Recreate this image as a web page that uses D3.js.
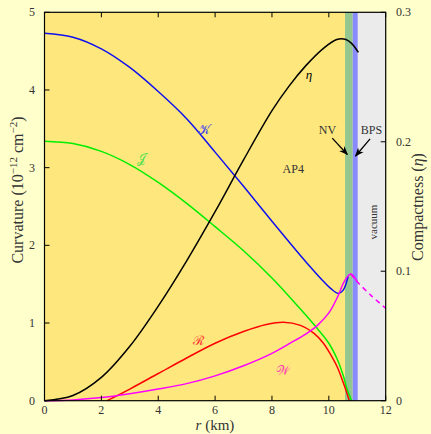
<!DOCTYPE html>
<html>
<head>
<meta charset="utf-8">
<script src="https://cdn.jsdelivr.net/npm/d3@7"></script>
<style>
  body { margin: 0; background: #ffffcc; }
  svg { display: block; }
  text { font-family: "Liberation Serif", "DejaVu Serif", serif; fill: #333; }
</style>
</head>
<body>
<svg id="chart" width="431" height="434"></svg>
<script>
// data (r in km, curvature in 1e-12 cm^-2, eta dimensionless)
const kR = [0, 1, 2, 3, 4, 5, 6, 7, 8, 9, 9.5, 9.8, 10.05, 10.33, 10.5, 10.68]
const kV = [4.73, 4.68, 4.53, 4.29, 3.98, 3.63, 3.2, 2.76, 2.31, 1.87, 1.66, 1.54, 1.45, 1.38, 1.42, 1.6]

const jR = [0, 1, 2, 3, 4, 5, 6, 7, 8, 9, 9.5, 10, 10.3, 10.5, 10.65, 10.8]
const jV = [3.34, 3.31, 3.21, 3.04, 2.81, 2.54, 2.24, 1.93, 1.58, 1.18, 0.97, 0.74, 0.53, 0.33, 0.14, 0]

const rR = [2.2, 3, 4, 5, 6, 7, 7.8, 8.4, 9, 9.5, 9.81, 10.1, 10.3, 10.5, 10.65, 10.72]
const rV = [0, 0.15, 0.35, 0.55, 0.74, 0.89, 0.98, 1.01, 0.97, 0.86, 0.74, 0.57, 0.43, 0.24, 0.08, 0]

const wR = [0, 1, 2, 3, 4, 5, 6, 7, 8, 8.64, 9.2, 9.6, 10, 10.3, 10.55, 10.77, 11.0]
const wV = [0, 0.01, 0.04, 0.09, 0.15, 0.22, 0.32, 0.45, 0.61, 0.74, 0.86, 0.97, 1.13, 1.33, 1.54, 1.63, 1.53]
const wDashR = [10.77, 11.0, 11.5, 12]
const wDashV = [1.63, 1.53, 1.35, 1.19]

const etaR = [0, 1, 2, 3, 4, 5, 6, 7, 8, 8.6, 9.2, 9.8, 10.28, 10.6, 10.8, 11.04]
const etaV = [0, 0.004, 0.018, 0.042, 0.073, 0.108, 0.146, 0.186, 0.224, 0.243, 0.259, 0.272, 0.279, 0.279, 0.276, 0.269]

// regions
const nvStart = 10.57, bpsStart = 10.84, vacStart = 11.02

const xTicks = [0, 2, 4, 6, 8, 10, 12]
const yTicks = [0, 1, 2, 3, 4, 5]
const y2Ticks = [0, 0.1, 0.2, 0.3]
const y2Labels = ["0", "0.1", "0.2", "0.3"]

const svg = d3.select("#chart")
const pLeft = 44.5, pRight = 385.7, pTop = 12.3, pBottom = 400.7

const x = d3.scaleLinear().domain([0, 12]).range([pLeft, pRight])
const y = d3.scaleLinear().domain([0, 5]).range([pBottom, pTop])
const y2 = d3.scaleLinear().domain([0, 0.3]).range([pBottom, pTop])

// background bands
function band(r0, r1, color) {
  svg.append("rect").attr("x", x(r0)).attr("y", pTop).attr("width", x(r1) - x(r0))
    .attr("height", pBottom - pTop).attr("fill", color)
}
band(0, nvStart, "#fee87e")
band(nvStart, bpsStart, "#93c78f")
band(bpsStart, vacStart, "#8a8aff")
band(vacStart, 12, "#ebebeb")

function draw(rs, vs, scale, color, dash) {
  const line = d3.line().x((d) => x(d[0])).y((d) => scale(d[1])).curve(d3.curveCatmullRom.alpha(0.5))
  svg.append("path")
    .attr("d", line(d3.zip(rs, vs)))
    .attr("fill", "none")
    .attr("stroke", color)
    .attr("stroke-width", 1.5)
    .attr("stroke-dasharray", dash || null)
}

draw(jR, jV, y, "#00ee00")
draw(kR, kV, y, "#1010ee")
draw(rR, rV, y, "#ff0000")
draw(wR, wV, y, "#ff00ff")
draw(wDashR, wDashV, y, "#ff00ff", "5,4")
draw(etaR, etaV, y2, "#000000")

// frame
svg.append("rect").attr("x", pLeft).attr("y", pTop).attr("width", pRight - pLeft).attr("height", pBottom - pTop)
  .attr("fill", "none").attr("stroke", "#000").attr("stroke-width", 1.2)

// ticks
const tk = 5
xTicks.forEach((t) => {
  svg.append("line").attr("x1", x(t)).attr("x2", x(t)).attr("y1", pBottom).attr("y2", pBottom - tk).attr("stroke", "#000")
  svg.append("line").attr("x1", x(t)).attr("x2", x(t)).attr("y1", pTop).attr("y2", pTop + tk).attr("stroke", "#000")
  svg.append("text").attr("x", x(t)).attr("y", pBottom + 13).attr("text-anchor", "middle").attr("font-size", 12).text(t)
})
yTicks.forEach((t) => {
  svg.append("line").attr("x1", pLeft).attr("x2", pLeft + tk).attr("y1", y(t)).attr("y2", y(t)).attr("stroke", "#000")
  svg.append("text").attr("x", 35).attr("y", y(t) + 4).attr("text-anchor", "end").attr("font-size", 12).text(t)
})
y2Ticks.forEach((t, i) => {
  svg.append("line").attr("x1", pRight).attr("x2", pRight - tk).attr("y1", y2(t)).attr("y2", y2(t)).attr("stroke", "#000")
  svg.append("text").attr("x", 396).attr("y", y2(t) + 4).attr("text-anchor", "start").attr("font-size", 12).text(y2Labels[i])
})

// axis titles
svg.append("text").attr("x", 215).attr("y", 430).attr("text-anchor", "middle").attr("font-size", 15)
  .html('<tspan font-style="italic">r</tspan> (km)')

const lt = svg.append("text").attr("transform", "translate(23,190) rotate(-90)").attr("text-anchor", "middle").attr("font-size", 16)
lt.append("tspan").text("Curvature (10")
lt.append("tspan").attr("font-size", 11).attr("dy", -6).text("−12")
lt.append("tspan").attr("dy", 6).text(" cm")
lt.append("tspan").attr("font-size", 11).attr("dy", -6).text("−2")
lt.append("tspan").attr("dy", 6).text(")")

svg.append("text").attr("transform", "translate(423,207) rotate(-90)").attr("text-anchor", "middle").attr("font-size", 16)
  .html('Compactness (<tspan font-style="italic">η</tspan>)')

// curve labels
const labels = [
  { t: "𝒦", r: 5.6, v: 3.5, c: "#4848e8" },
  { t: "𝒥", r: 3.4, v: 3.12, c: "#50e050" },
  { t: "ℛ", r: 5.4, v: 0.78, c: "#ff3030" },
  { t: "𝒲", r: 8.4, v: 0.4, c: "#ff40b0" },
  { t: "η", r: 9.3, v: 4.2, c: "#000", it: true },
]
labels.forEach((d) => {
  svg.append("text").attr("x", x(d.r)).attr("y", y(d.v) + 5).attr("text-anchor", "middle")
    .attr("font-size", 13).attr("font-style", d.it ? "italic" : null).style("fill", d.c).text(d.t)
})

svg.append("text").attr("x", x(8.75)).attr("y", y(3.0) + 5).attr("text-anchor", "middle").attr("font-size", 12).text("AP4")
svg.append("text").attr("x", x(9.95)).attr("y", y(3.49) + 4).attr("text-anchor", "middle").attr("font-size", 12).text("NV")
svg.append("text").attr("x", x(11.5)).attr("y", y(3.49) + 4).attr("text-anchor", "middle").attr("font-size", 12).text("BPS")
svg.append("text").attr("transform", `translate(${x(11.55) + 4},${y(2.3)}) rotate(-90)`).attr("text-anchor", "middle")
  .attr("font-size", 11).text("vacuum")

// arrows
svg.append("defs").append("marker").attr("id", "ah").attr("viewBox", "0 0 10 10").attr("refX", 9).attr("refY", 5)
  .attr("markerWidth", 7).attr("markerHeight", 7).attr("orient", "auto")
  .append("path").attr("d", "M0,1 L10,5 L0,9 L3,5 Z").attr("fill", "#000")

const arrows = [
  { r1: 10.12, v1: 3.38, r2: 10.65, v2: 3.17 },
  { r1: 11.45, v1: 3.37, r2: 10.94, v2: 3.15 },
]
arrows.forEach((a) => {
  svg.append("line").attr("x1", x(a.r1)).attr("y1", y(a.v1)).attr("x2", x(a.r2)).attr("y2", y(a.v2))
    .attr("stroke", "#000").attr("stroke-width", 1.3).attr("marker-end", "url(#ah)")
})
</script>
</body>
</html>
